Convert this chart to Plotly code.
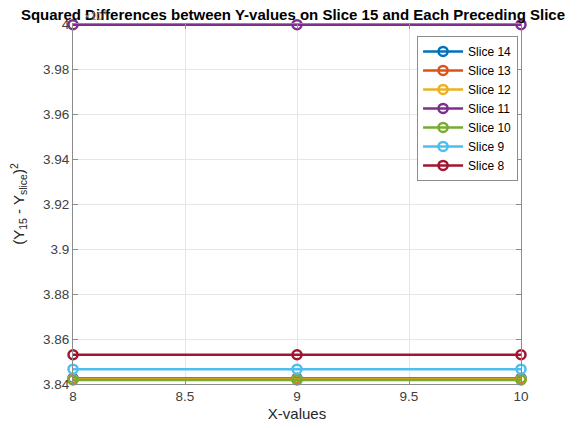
import plotly.graph_objects as go

x_values = [8, 9, 10]
series_names = ["Slice 14", "Slice 13", "Slice 12", "Slice 11", "Slice 10", "Slice 9", "Slice 8"]
series_values = {
    "Slice 14": [3.8425, 3.8425, 3.8425],
    "Slice 13": [3.8422, 3.8422, 3.8422],
    "Slice 12": [3.8420, 3.8420, 3.8420],
    "Slice 11": [3.9997, 3.9997, 3.9997],
    "Slice 10": [3.8418, 3.8418, 3.8418],
    "Slice 9": [3.8466, 3.8466, 3.8466],
    "Slice 8": [3.8530, 3.8530, 3.8530],
}
colors = ["#0072BD", "#D95319", "#EDB120", "#7E2F8E", "#77AC30", "#4DBEEE", "#A2142F"]
y_ticks = [3.84, 3.86, 3.88, 3.9, 3.92, 3.94, 3.96, 3.98, 4.0]
y_ticklabels = ["3.84", "3.86", "3.88", "3.9", "3.92", "3.94", "3.96", "3.98", "4"]
x_ticks = [8, 8.5, 9, 9.5, 10]

fig = go.Figure()
for name, c in zip(series_names, colors):
    fig.add_trace(go.Scatter(
        x=x_values, y=series_values[name], name=name, mode="lines+markers",
        line=dict(color=c, width=2.5),
        marker=dict(symbol="circle-open", size=9, color=c, line=dict(width=2.5, color=c)),
        cliponaxis=False,
    ))

axis_font = dict(family="Liberation Sans, Arial, sans-serif", size=13.5, color="#404040")
fig.update_layout(
    width=570, height=420,
    margin=dict(l=65, r=57, t=16, b=44, autoexpand=False),
    paper_bgcolor="white", plot_bgcolor="white",
    font=dict(family="Liberation Sans, Arial, sans-serif", color="#262626"),
    title=dict(text="<b>Squared Differences between Y-values on Slice 15 and Each Preceding Slice</b>",
               x=0.5, xanchor="center", y=0.984, yanchor="middle",
               font=dict(size=15, color="#000000")),
    xaxis=dict(range=[8, 10], tickvals=x_ticks, ticktext=["8", "8.5", "9", "9.5", "10"],
               showgrid=True, gridcolor="#e6e6e6", gridwidth=1, automargin=False,
               showline=True, linecolor="#8c8c8c", linewidth=1, mirror="ticks",
               ticks="inside", ticklen=5, tickcolor="#8c8c8c", tickfont=axis_font,
               zeroline=False,
               title=dict(text="X-values", font=dict(size=15, color="#262626"), standoff=5)),
    yaxis=dict(range=[3.84, 4.0], tickvals=y_ticks, ticktext=y_ticklabels,
               showgrid=True, gridcolor="#e6e6e6", gridwidth=1, automargin=False,
               showline=True, linecolor="#8c8c8c", linewidth=1, mirror="ticks",
               ticks="inside", ticklen=5, tickcolor="#8c8c8c", tickfont=axis_font,
               zeroline=False,
               title=dict(text="(Y<sub>15</sub> - Y<sub>slice</sub>)<sup>2</sup>",
                          font=dict(size=15, color="#262626"), standoff=15)),
    legend=dict(x=0.768, y=0.967, xanchor="left", yanchor="top",
                bgcolor="white", bordercolor="#8c8c8c", borderwidth=1,
                font=dict(size=12, color="#000000"), itemwidth=40,
                tracegroupgap=0),
    showlegend=True,
)
fig.add_annotation(text="×10<sup>4</sup>", xref="paper", yref="paper", x=0.02, y=1.0,
                   xanchor="left", yanchor="bottom", showarrow=False, yshift=0,
                   font=dict(size=11, color="#8c8c8c"))
fig.write_html("out.html")
